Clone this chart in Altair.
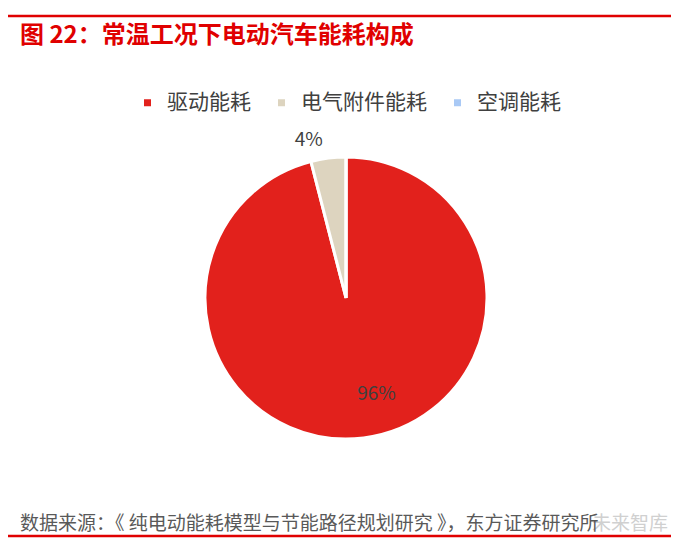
import altair as alt
import pandas as pd

categories = ["驱动能耗", "电气附件能耗", "空调能耗"]
values = [96, 4, 0]
labels = ["96%", "4%", ""]
colors = ["#E2211C", "#DDD4BF", "#A9C9F5"]

title_text = "图 22：常温工况下电动汽车能耗构成"
source_text = "数据来源：《 纯电动能耗模型与节能路径规划研究 》，东方证券研究所"
watermark_text = "未来智库"

df = pd.DataFrame({"category": categories, "value": values, "label": labels,
                   "order": list(range(len(categories)))})

W, H = 663, 530
CX, CY, R = 338, 290, 141
FONT = "Noto Sans CJK SC"

base = alt.Chart(df).encode(
    theta=alt.Theta("value:Q", stack=True),
    order=alt.Order("order:Q"),
)

pie = base.mark_arc(stroke="white", strokeWidth=3, outerRadius=R).encode(
    x=alt.value(CX), y=alt.value(CY),
    color=alt.Color("category:N", scale=alt.Scale(domain=categories, range=colors),
                    sort=categories,
                    legend=alt.Legend(title=None, orient="none", direction="horizontal",
                                      legendX=129, legendY=84, symbolType="square",
                                      symbolSize=49, labelFontSize=21, labelFont=FONT,
                                      labelColor="#404040", labelOffset=9,
                                      columnPadding=20, symbolStrokeWidth=0)),
)

inner = base.transform_calculate(
    t="datum.category == '驱动能耗' ? datum.label : ''"
).mark_text(radius=100, fontSize=19, font=FONT, color="#404040", dx=18, dy=-3).encode(
    x=alt.value(CX), y=alt.value(CY), text="t:N"
)

outer = base.transform_calculate(
    t="datum.category == '电气附件能耗' ? datum.label : ''"
).mark_text(radius=162, fontSize=19, font=FONT, color="#404040", dx=-17, dy=3).encode(
    x=alt.value(CX), y=alt.value(CY), text="t:N"
)

ann = pd.DataFrame({"t": [0]})
top_line = alt.Chart(ann).mark_rule(color="#E00000", strokeWidth=2.5).encode(
    x=alt.value(0), x2=alt.value(W), y=alt.value(8))
bottom_line = alt.Chart(ann).mark_rule(color="#E00000", strokeWidth=2.5).encode(
    x=alt.value(0), x2=alt.value(W), y=alt.value(528))

title = alt.Chart(ann).mark_text(align="left", baseline="middle", fontSize=24,
                                 fontWeight="bold", font=FONT, color="#E00000").encode(
    x=alt.value(12), y=alt.value(28), text=alt.value(title_text))

source = alt.Chart(ann).mark_text(align="left", baseline="middle", fontSize=19,
                                  font=FONT, color="#595959").encode(
    x=alt.value(12), y=alt.value(516), text=alt.value(source_text))

watermark = alt.Chart(ann).mark_text(align="left", baseline="middle", fontSize=19,
                                     font=FONT, color="#D0D0D0").encode(
    x=alt.value(584), y=alt.value(516), text=alt.value(watermark_text))

chart = alt.layer(watermark, pie, inner, outer, top_line, bottom_line, title, source).properties(
    width=W, height=H, padding=0, background="white",
    autosize=alt.AutoSizeParams(type="none")
).configure_view(strokeWidth=0, stroke="transparent")

chart.save("out.html", embed_options={"renderer": "svg", "actions": False})
